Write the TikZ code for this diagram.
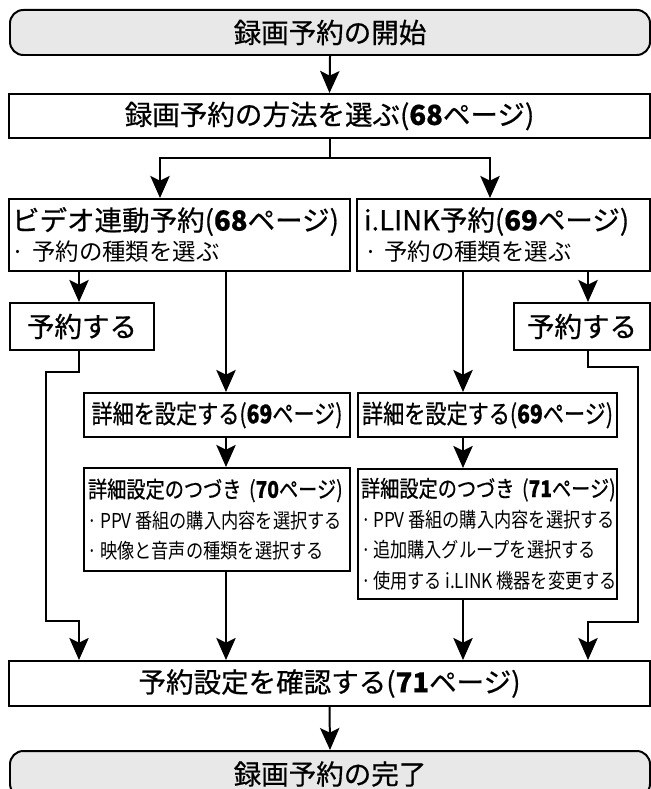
\documentclass[tikz,border=0pt]{standalone}
\usepackage{fontspec}
\usetikzlibrary{arrows.meta}
\newfontfamily\jp[FakeBold=0.6]{Noto Sans CJK JP}
\newfontfamily\jplight{Noto Sans CJK JP}
\newfontfamily\jpnarrow[FakeStretch=0.82, FakeBold=0.6]{Noto Sans CJK JP}
\newfontfamily\jpslim[FakeStretch=0.84, FakeBold=0.6]{Noto Sans CJK JP}
\newfontfamily\jpslimlight[FakeStretch=0.84]{Noto Sans CJK JP}
\tikzset{
  frame/.style={draw, line width=1.7pt, fill=white, inner sep=0pt, anchor=north west},
  endbox/.style={frame, rounded corners=0.4cm, fill=black!9},
  big/.style={font=\jp\fontsize{23.5}{26}\selectfont},
  narrow/.style={font=\jpnarrow\fontsize{22}{26}\selectfont},
  slim/.style={font=\jpslim\fontsize{19.5}{26}\selectfont},
  conn/.style={line width=1.7pt},
  arr/.style={line width=1.7pt, -{Stealth[length=0.66cm, width=0.58cm, inset=0.14cm]}},
}
\newcommand{\sub}[1]{\mbox{\jplight\fontsize{20}{26}\selectfont ·\hspace{0.3em}#1}}
\newcommand{\subslim}[1]{\mbox{\jpslimlight\fontsize{17.5}{26}\selectfont ·\hspace{0.12em}#1}}
\begin{document}
\begin{tikzpicture}[x=0.03cm, y=-0.03cm]
  \useasboundingbox (0,0) rectangle (651,789);
  \clip (0,0) rectangle (651,789);
  % columns of the connectors
  \coordinate (c1) at (79,0);
  \coordinate (c2) at (160,0);
  \coordinate (c3) at (226,0);
  \coordinate (c4) at (463,0);
  \coordinate (c5) at (490,0);
  \coordinate (c6) at (588,0);
  % start and choice
  \node[endbox, big, minimum width=19.2cm, minimum height=1.35cm] (start) at (9,9) {録画予約の開始};
  \node[frame, big, minimum width=19.23cm, minimum height=1.32cm] (method) at (8,93) {録画予約の方法を選ぶ(\textbf{68}ページ)};
  % the two ways
  \node[frame, big, minimum height=2.16cm, text width=10.05cm, inner xsep=0.09cm, align=left] (video) at (8,198)
    {\mbox{ビデオ連動予約(\textbf{68}ページ)}\\\sub{予約の種類を選ぶ}};
  \node[frame, big, minimum height=2.16cm, text width=8.37cm, inner xsep=0.21cm, align=left] (ilink) at (356,198)
    {\mbox{i.LINK予約(\textbf{69}ページ)}\\\sub{予約の種類を選ぶ}};
  \node[frame, big, minimum width=4.32cm, minimum height=1.41cm] (bookL) at (9,302) {予約する};
  \node[frame, big, minimum width=4.08cm, minimum height=1.41cm] (bookR) at (513,302) {予約する};
  % details
  \node[frame, narrow, minimum width=7.98cm, minimum height=1.32cm] (detailL) at (83,392) {詳細を設定する(\textbf{69}ページ)};
  \node[frame, narrow, minimum width=7.77cm, minimum height=1.32cm] (detailR) at (357,392) {詳細を設定する(\textbf{69}ページ)};
  \node[frame, slim, minimum height=3.09cm, text width=7.74cm, inner xsep=0.12cm, align=left] (moreL) at (83,467)
    {\mbox{詳細設定のつづき (\textbf{70}ページ)}\\\subslim{PPV\,番組の購入内容を選択する}\\\subslim{映像と音声の種類を選択する}};
  \node[frame, slim, minimum height=3.9cm, text width=7.59cm, inner xsep=0.09cm, align=left] (moreR) at (357,468)
    {\mbox{詳細設定のつづき (\textbf{71}ページ)}\\\subslim{PPV\,番組の購入内容を選択する}\\\subslim{追加購入グループを選択する}\\\subslim{使用する\,i.LINK\,機器を変更する}};
  % check and end
  \node[frame, big, minimum width=19.23cm, minimum height=1.35cm] (confirm) at (8,660) {予約設定を確認する(\textbf{71}ページ)};
  \node[endbox, big, minimum width=19.2cm, minimum height=1.38cm] (finish) at (9,750) {録画予約の完了};
  % connectors
  \draw[arr] (start.south) -- (method.north);
  \draw[conn] (method.south) -- ++(0,19) coordinate (fork);
  \draw[arr] (fork) -| (video.north -| c2);
  \draw[arr] (fork) -| (ilink.north -| c5);
  \draw[arr] (video.south -| c1) -- (bookL.north -| c1);
  \draw[arr] (video.south -| c3) -- (detailL.north -| c3);
  \draw[arr] (detailL.south -| c3) -- (moreL.north -| c3);
  \draw[arr] (moreL.south -| c3) -- (confirm.north -| c3);
  \draw[arr] (ilink.south -| c6) -- (bookR.north -| c6);
  \draw[arr] (ilink.south -| c4) -- (detailR.north -| c4);
  \draw[arr] (detailR.south -| c4) -- (moreR.north -| c4);
  \draw[arr] (moreR.south -| c4) -- (confirm.north -| c4);
  \draw[arr] (bookL.south -| c1) -- ++(0,21) -- ++(-33,0) -- ++(0,249) -- ++(33,0) -- (confirm.north -| c1);
  \draw[arr] (bookR.south -| c6) -- ++(0,16) -- ++(50,0) -- ++(0,255) -- ++(-50,0) -- (confirm.north -| c6);
  \draw[arr] (confirm.south) -- (finish.north);
\end{tikzpicture}
\end{document}
